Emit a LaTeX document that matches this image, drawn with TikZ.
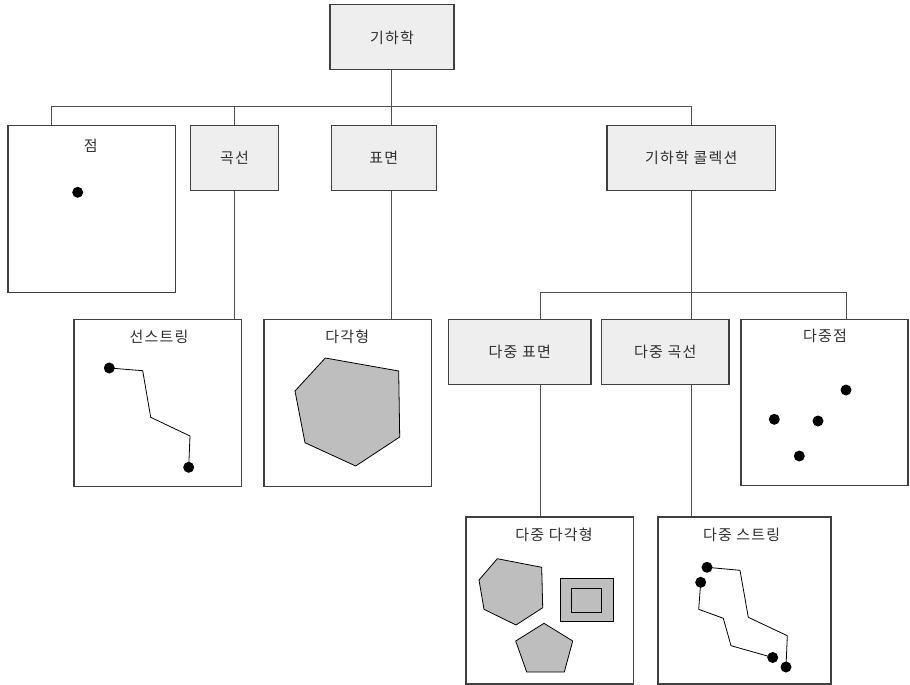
\documentclass[tikz,border=0pt]{standalone}
\usepackage{fontspec}
\setmainfont[LetterSpace=8]{Noto Sans CJK KR}
\definecolor{boxfill}{HTML}{EEEEEE}
\definecolor{boxline}{HTML}{404040}
\definecolor{connline}{HTML}{505050}
\definecolor{polyfill}{HTML}{BEBEBE}
\definecolor{txt}{HTML}{303030}
\tikzset{
  gbox/.style={draw=boxline, line width=1.2pt, fill=boxfill, anchor=north west, inner sep=0pt, text=txt, font=\fontsize{15}{17}\selectfont},
  wbox/.style={draw=boxline, line width=1.2pt, fill=white, anchor=north west, inner sep=0pt},
  ttl/.style={font=\fontsize{15}{17}\selectfont, text=txt, inner sep=0pt},
  conn/.style={draw=connline, line width=1pt},
  geo/.style={draw=black, line width=0.8pt},
  poly/.style={draw=black, line width=0.8pt, fill=polyfill},
  dot/.style={fill=black, circle, inner sep=0pt, minimum size=11pt}
}
\begin{document}
\begin{tikzpicture}[x=1pt,y=-1pt]
\useasboundingbox (0,0) rectangle (910,685);
% top level
\node[gbox, minimum width=124pt, minimum height=65pt] (root) at (329.3,4.3) {기하학};
\node[wbox, minimum width=167.4pt, minimum height=166.7pt] (pt) at (7.3,125) {};
\node[gbox, minimum width=87.7pt, minimum height=65pt] (curve) at (190,125) {곡선};
\node[gbox, minimum width=105pt, minimum height=65pt] (surf) at (330.7,125) {표면};
\node[gbox, minimum width=168.7pt, minimum height=65.3pt] (coll) at (606.3,124.7) {기하학 콜렉션};
% second level
\node[wbox, minimum width=167.7pt, minimum height=166.7pt] (ls) at (73.3,319) {};
\node[wbox, minimum width=167.7pt, minimum height=166.7pt] (poly) at (263.3,319) {};
\node[gbox, minimum width=142.3pt, minimum height=65pt] (ms) at (448,318.7) {다중 표면};
\node[gbox, minimum width=127.3pt, minimum height=65pt] (mc) at (601,318.7) {다중 곡선};
\node[wbox, minimum width=167pt, minimum height=166.3pt] (mpt) at (740.3,318.7) {};
% third level
\node[wbox, minimum width=167.7pt, minimum height=167pt] (mpoly) at (465.3,516.3) {};
\node[wbox, minimum width=173pt, minimum height=167pt] (mstr) at (657.3,516.3) {};
% titles
\node[ttl] (tpt) at (90.7,146) {점};
\node[ttl] (tls) at (159,336.7) {선스트링};
\node[ttl] (tpoly) at (347.3,336.7) {다각형};
\node[ttl] (tmpt) at (825,336) {다중점};
\node[ttl] (tmpoly) at (554,535) {다중 다각형};
\node[ttl] (tmstr) at (741.7,535) {다중 스트링};
% connectors
\coordinate (b1) at (391.3,106);
\coordinate (b2l) at (540.3,292);
\coordinate (b2r) at (846,292);
\draw[conn] (root.south) -- (root.south |- surf.north);
\draw[conn] ([xshift=44pt]pt.north west) |- (coll.north |- b1) -- (coll.north);
\draw[conn] (curve.north) -- (curve.north |- b1);
\draw[conn] (curve.south) -- (curve.south |- ls.north);
\draw[conn] (root.south |- surf.south) -- (root.south |- poly.north);
\draw[conn] (coll.south) -- (coll.south |- mc.north);
\draw[conn] (b2l |- ms.north) -- (b2l) -- (b2r) -- (b2r |- mpt.north);
\draw[conn] (b2l |- ms.south) -- (b2l |- mpoly.north);
\draw[conn] (coll.south |- mc.south) -- (coll.south |- mstr.north);
% point
\node[dot] (d0) at (77.7,192.3) {};
% linestring
\draw[geo] (109.3,368) -- (142.7,370.7) -- (150.7,417.3) -- (190,436) -- (188.7,467.3);
\node[dot] (d1) at (109.3,368) {};
\node[dot] (d2) at (188.7,467.3) {};
% polygon
\draw[poly] (325.3,358) -- (398.7,371) -- (399.7,437) -- (355.7,466) -- (305,442.7) -- (295,391) -- cycle;
% multipoint
\node[dot] (d3) at (846,390) {};
\node[dot] (d4) at (774.3,419.3) {};
\node[dot] (d5) at (818,421) {};
\node[dot] (d6) at (799.3,456) {};
% multipolygon
\draw[poly] (497.3,558.7) -- (541.7,567.3) -- (542.7,607.7) -- (516,625) -- (484,609.3) -- (479,580) -- cycle;
\draw[poly] (560,578.3) rectangle (613,621);
\draw[poly] (571.7,588.3) rectangle (601.7,612);
\draw[poly] (544,623.3) -- (572.7,641) -- (564.3,672) -- (526.7,672) -- (515.7,641) -- cycle;
% multistring
\draw[geo] (707,567.3) -- (740,570.3) -- (748.3,617.3) -- (787.3,635.7) -- (786,667);
\draw[geo] (700.7,582.3) -- (698.7,609.3) -- (723.3,618.3) -- (731,645.7) -- (772.7,657.5);
\node[dot] (d7) at (707,567.3) {};
\node[dot] (d8) at (700.7,582.3) {};
\node[dot] (d9) at (772.7,657.5) {};
\node[dot] (d10) at (786,667) {};
\end{tikzpicture}
\end{document}
